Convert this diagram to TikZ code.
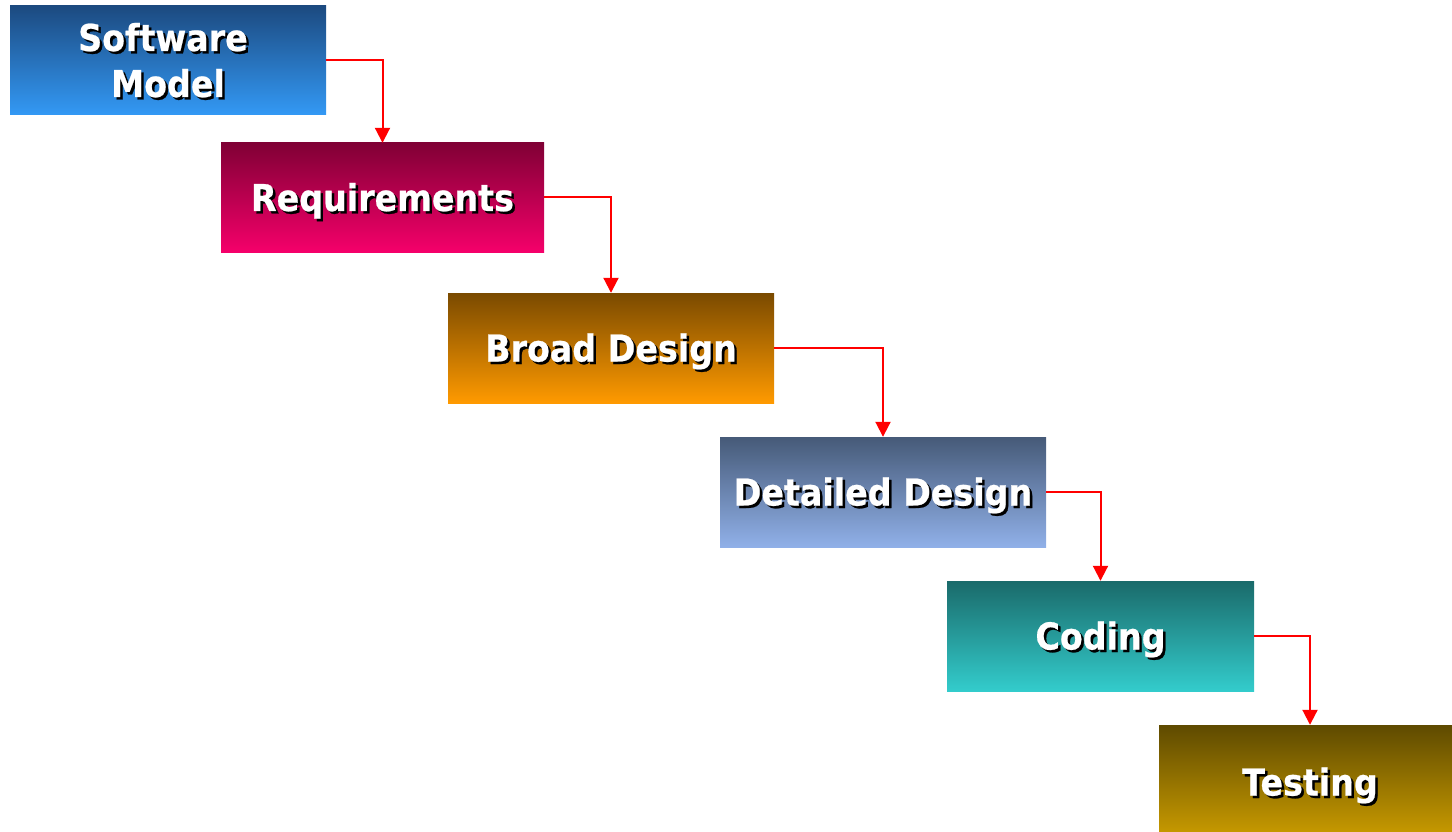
\documentclass[tikz,border=0pt]{standalone}
\usepackage{fontspec}
\setmainfont{DejaVu Sans}
\newfontfamily\stagefont{DejaVu Sans Bold}[FakeStretch=0.9, FakeBold=0.6]
\usetikzlibrary{arrows.meta}
\definecolor{c1t}{HTML}{1C4A80}\definecolor{c1b}{HTML}{3399F5}
\definecolor{c2t}{HTML}{800035}\definecolor{c2b}{HTML}{F5006A}
\definecolor{c3t}{HTML}{7A4A00}\definecolor{c3b}{HTML}{FF9A00}
\definecolor{c4t}{HTML}{465A78}\definecolor{c4b}{HTML}{90B0E8}
\definecolor{c5t}{HTML}{1A6A6A}\definecolor{c5b}{HTML}{33CCCC}
\definecolor{c6t}{HTML}{5E4A00}\definecolor{c6b}{HTML}{C89A00}
\tikzset{
  x=1pt, y=-1pt,
  stagebox/.style={inner sep=0pt, draw=none, rectangle},
  lbl/.style={font=\stagefont\fontsize{37}{44}\selectfont, text=white, inner sep=0pt, anchor=base},
  shd/.style={lbl, text=black},
  flow/.style={draw=red, line width=2pt, -{Triangle[width=15pt,length=15pt]}}
}
% name, cx, cy, w, h, top, bottom
\newcommand{\mkbox}[7]{%
  \node[stagebox, minimum width=#4pt, minimum height=#5pt, top color=#6, bottom color=#7] (#1) at (#2,#3) {};
}
% name, box, x offset, y offset of baseline, text
\newcommand{\mktext}[5]{%
  \node[shd] (#1s) at ([xshift={#3pt+2.5pt},yshift={-#4pt-2.5pt}]#2.center) {#5};
  \node[lbl] (#1) at ([xshift=#3pt,yshift=-#4pt]#2.center) {#5};
}
\begin{document}
\begin{tikzpicture}
\useasboundingbox (0,0) rectangle (1452,832);
\mkbox{b1}{168}{60.5}{316}{109}{c1t}{c1b}
\mkbox{b2}{382.5}{197.5}{323}{109}{c2t}{c2b}
\mkbox{b3}{611}{348}{326}{110}{c3t}{c3b}
\mkbox{b4}{883}{492}{326}{110}{c4t}{c4b}
\mkbox{b5}{1100.5}{636}{307}{110}{c5t}{c5b}
\mkbox{b6}{1310}{780}{302}{110}{c6t}{c6b}
\mktext{t1a}{b1}{-5}{-9.5}{Software}
\mktext{t1b}{b1}{0}{36.5}{Model}
\mktext{t2}{b2}{0}{13.5}{Requirements}
\mktext{t3}{b3}{0}{13.5}{Broad Design}
\mktext{t4}{b4}{0}{13.5}{Detailed Design}
\mktext{t5}{b5}{0}{13.5}{Coding}
\mktext{t6}{b6}{0}{15.5}{Testing}
\draw[flow] (b1.east) -| (b2.north);
\draw[flow] (b2.east) -| (b3.north);
\draw[flow] (b3.east) -| (b4.north);
\draw[flow] (b4.east) -| (b5.north);
\draw[flow] (b5.east) -| (b6.north);
\end{tikzpicture}
\end{document}
